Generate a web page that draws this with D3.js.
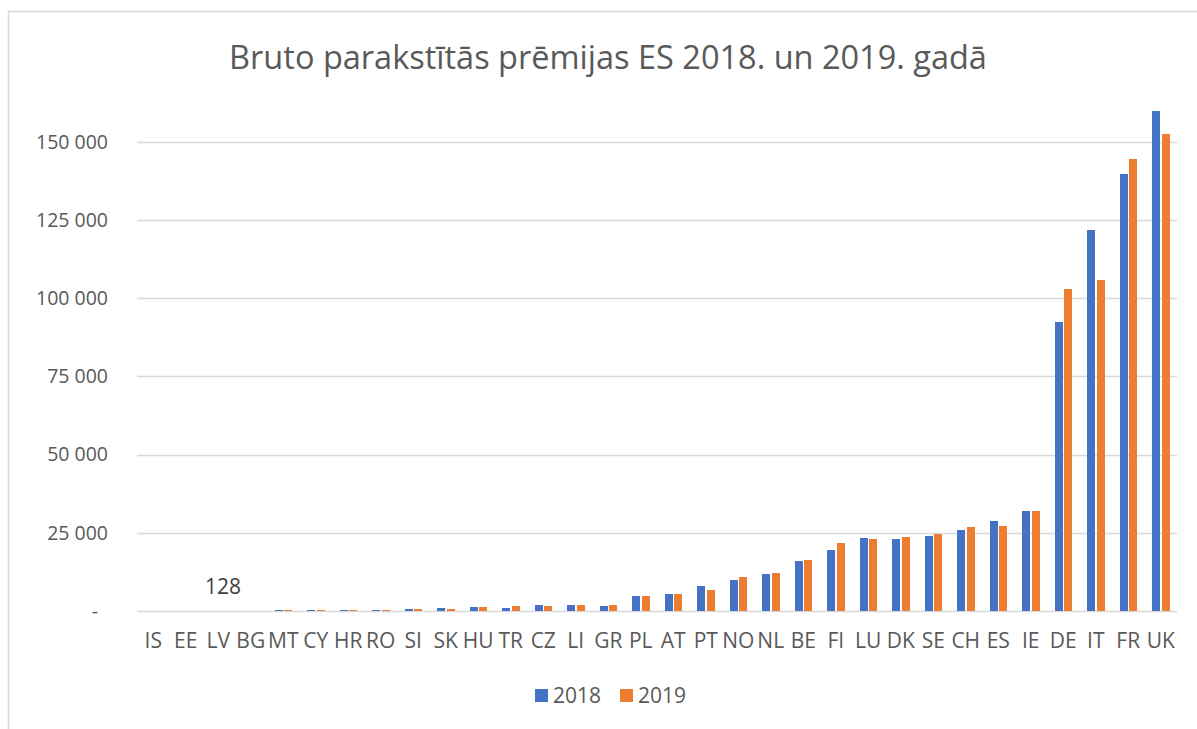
<!DOCTYPE html>
<meta charset="utf-8">
<head>
  <script src="https://d3js.org/d3.v7.min.js"></script>
  <style>
    body { margin: 0; background: #fff; }
    text { font-family: "Open Sans", "Noto Sans", sans-serif; fill: #595959; }
  </style>
</head>
<body>
  <svg id="chart"></svg>
  <script>
    // data
    var countries = ["IS","EE","LV","BG","MT","CY","HR","RO","SI","SK","HU","TR","CZ","LI","GR","PL",
                     "AT","PT","NO","NL","BE","FI","LU","DK","SE","CH","ES","IE","DE","IT","FR","UK"];
    var val2018 = [0, 0, 110, 0, 300, 300, 300, 300, 550, 850, 1300, 850, 1900, 1900, 1600, 4900,
                   5400, 7900, 9900, 11700, 16000, 19400, 23300, 22900, 23900, 26000, 28800, 31900, 92500, 121800, 139700, 159900];
    var val2019 = [0, 0, 128, 0, 300, 300, 300, 300, 550, 750, 1400, 1600, 1600, 2000, 2000, 4900,
                   5400, 6800, 10900, 12100, 16300, 21800, 23000, 23800, 24600, 26800, 27200, 31900, 102900, 105800, 144400, 152500];
    var yTicks = [0, 25000, 50000, 75000, 100000, 125000, 150000];
    var labelCountry = "LV", labelValue = "128";

    var W = 1197, H = 729;
    var left = 137, right = 1177, base = 611;

    var svg = d3.select("#chart").attr("width", W).attr("height", H);

    // outer border of the chart area
    svg.append("rect")
      .attr("x", 8.5).attr("y", 11.5)
      .attr("width", W + 20).attr("height", H + 20)
      .attr("fill", "none").attr("stroke", "#d9d9d9").attr("stroke-width", 1.5);

    var x = d3.scaleBand().domain(countries).range([left, right]);
    var y = d3.scaleLinear().domain([0, 175000]).range([base, base - 7 * 78.17]);

    // gridlines
    svg.append("g").selectAll("line")
      .data(yTicks)
      .enter().append("line")
      .attr("x1", left).attr("x2", right)
      .attr("y1", function(d){ return Math.round(y(d)) + 0.5; })
      .attr("y2", function(d){ return Math.round(y(d)) + 0.5; })
      .attr("stroke", "#d9d9d9").attr("stroke-width", 1.5);

    // y axis labels
    svg.append("g").selectAll("text")
      .data(yTicks)
      .enter().append("text")
      .attr("x", function(d){ return d == 0 ? 98 : 108; })
      .attr("y", function(d){ return y(d); })
      .attr("dy", "0.35em")
      .attr("text-anchor", "end")
      .style("font-size", "19.5px")
      .text(function(d){ return d == 0 ? "-" : d3.format(",")(d).replace(/,/g, " "); });

    // bars
    var barW = 8, gap = 1.5;
    var series = [{vals: val2018, color: "#4472C4", off: -barW - gap / 2},
                  {vals: val2019, color: "#ED7D31", off: gap / 2}];
    series.forEach(function(s){
      svg.append("g").selectAll("rect")
        .data(countries)
        .enter().append("rect")
        .attr("x", function(d){ return x(d) + x.bandwidth() / 2 + s.off; })
        .attr("y", function(d, i){ return y(s.vals[i]); })
        .attr("width", barW)
        .attr("height", function(d, i){ return base - y(s.vals[i]); })
        .attr("shape-rendering", "crispEdges")
        .attr("fill", s.color);
    });

    // data label
    svg.append("text")
      .attr("x", x(labelCountry) + x.bandwidth() / 2 + barW / 2 + gap / 2)
      .attr("y", base - 17)
      .attr("text-anchor", "middle")
      .style("font-size", "21px")
      .style("fill", "#404040")
      .text(labelValue);

    // x axis labels
    svg.append("g").selectAll("text")
      .data(countries)
      .enter().append("text")
      .attr("x", function(d){ return x(d) + x.bandwidth() / 2; })
      .attr("y", 648)
      .attr("text-anchor", "middle")
      .style("font-size", "21px")
      .text(function(d){ return d; });

    // title
    svg.append("text")
      .attr("x", 608).attr("y", 69)
      .attr("text-anchor", "middle")
      .style("font-size", "32.5px")
      .text("Bruto parakstītās prēmijas ES 2018. un 2019. gadā");

    // legend
    var legend = [{name: "2018", color: "#4472C4", x: 535}, {name: "2019", color: "#ED7D31", x: 620}];
    var lg = svg.append("g").selectAll("g").data(legend).enter().append("g");
    lg.append("rect")
      .attr("x", function(d){ return d.x; }).attr("y", 689)
      .attr("width", 13).attr("height", 13)
      .attr("fill", function(d){ return d.color; });
    lg.append("text")
      .attr("x", function(d){ return d.x + 18; }).attr("y", 703)
      .style("font-size", "21px")
      .text(function(d){ return d.name; });
  </script>
</body>
